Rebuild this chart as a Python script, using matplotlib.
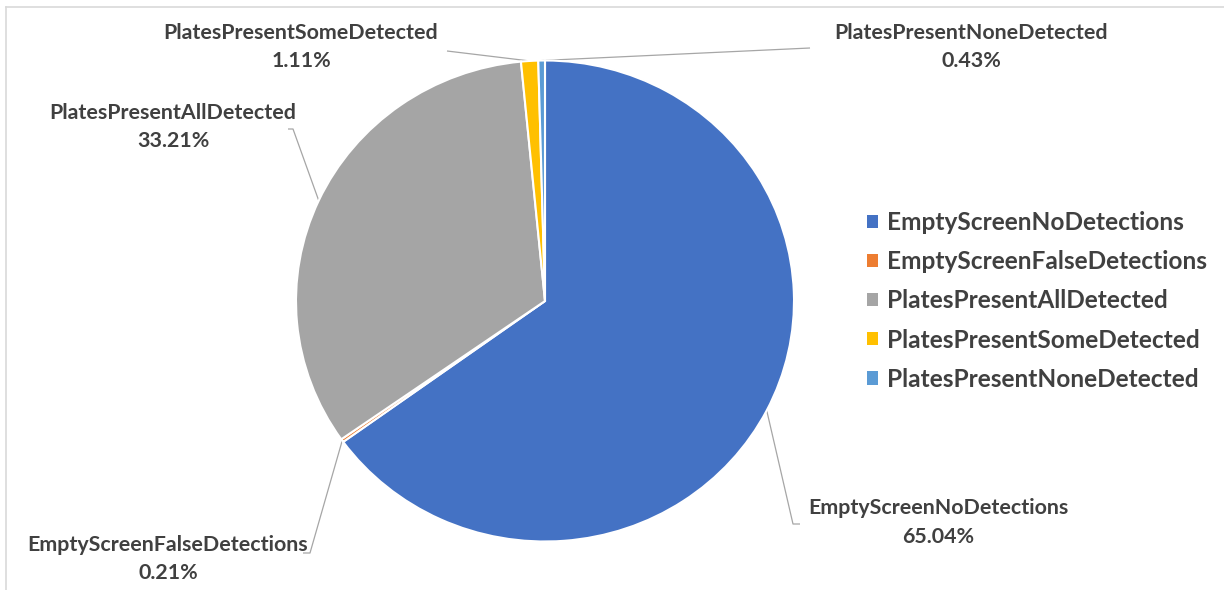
import matplotlib.pyplot as plt
from matplotlib.patches import Patch
import numpy as np

plt.rcParams['font.family'] = ['Lato', 'DejaVu Sans']

categories = ['EmptyScreenNoDetections', 'EmptyScreenFalseDetections',
              'PlatesPresentAllDetected', 'PlatesPresentSomeDetected',
              'PlatesPresentNoneDetected']
shares = [65.04, 0.21, 33.21, 1.11, 0.43]
colors = ['#4472C4', '#ED7D31', '#A5A5A5', '#FFC000', '#5B9BD5']

W, H = 1224, 590
cx, cy = 545, H - 301      # pie centre in pixels
rx, ry = 249, 240.5        # the screenshot is slightly stretched sideways
txt_col = '#404040'
line_col = '#A6A6A6'

# label centre (x, name y, value y from top) and leader elbow for each slice
label_pos = [(938, 508, 537), (168, 545, 573), (173, 113, 141), (301, 33, 61), (971, 33, 61)]
elbows = [(793, 524, 800), (310, 553, 303), (293, 129, 288), (447, 51, None), (810, 48, None)]

fig = plt.figure(figsize=(W / 100, H / 100), dpi=100)
ax = fig.add_axes([0, 0, 1, 1])
ax.set_xlim(0, W)
ax.set_ylim(0, H)
ax.axis('off')

pax = fig.add_axes([(cx - rx) / W, (cy - ry) / H, 2 * rx / W, 2 * ry / H])
wedges, _ = pax.pie(shares, colors=colors, startangle=90, counterclock=False,
                    wedgeprops=dict(edgecolor='white', linewidth=1.5))
pax.set_aspect('auto')
pax.set_xlim(-1, 1)
pax.set_ylim(-1, 1)
pax.axis('off')

for w, name, val, (lx, ny, vy), (ex, ey, tx) in zip(wedges, categories, shares, label_pos, elbows):
    mid = np.deg2rad((w.theta1 + w.theta2) / 2)
    px, py = cx + rx * np.cos(mid), cy + ry * np.sin(mid)
    xs = [px, ex]
    ys = [py, H - ey]
    if tx is not None:
        xs.append(tx)
        ys.append(H - ey)
    ax.plot(xs, ys, color=line_col, lw=0.9, solid_capstyle='butt')
    ax.text(lx, H - ny, name, ha='center', va='center',
            fontsize=15.4, fontweight='bold', color=txt_col)
    ax.text(lx, H - vy, f'{val:.2f}%', ha='center', va='center',
            fontsize=15.4, fontweight='bold', color=txt_col)

handles = [Patch(facecolor=c, edgecolor='none') for c in colors]
leg = ax.legend(handles, categories, loc='center left', bbox_to_anchor=(855 / W, 1 - 301 / H),
                frameon=False, prop=dict(size=17.6, weight='bold'), handlelength=0.45,
                handleheight=0.45, handletextpad=0.36, labelspacing=0.66, borderpad=0)
for t in leg.get_texts():
    t.set_color(txt_col)

# chart area frame (top and left edges visible)
ax.plot([6, 6], [0, H - 7], color='#D9D9D9', lw=1.2)
ax.plot([6, W], [H - 7, H - 7], color='#D9D9D9', lw=1.2)

fig.savefig('out.png', dpi=100, facecolor='white')
